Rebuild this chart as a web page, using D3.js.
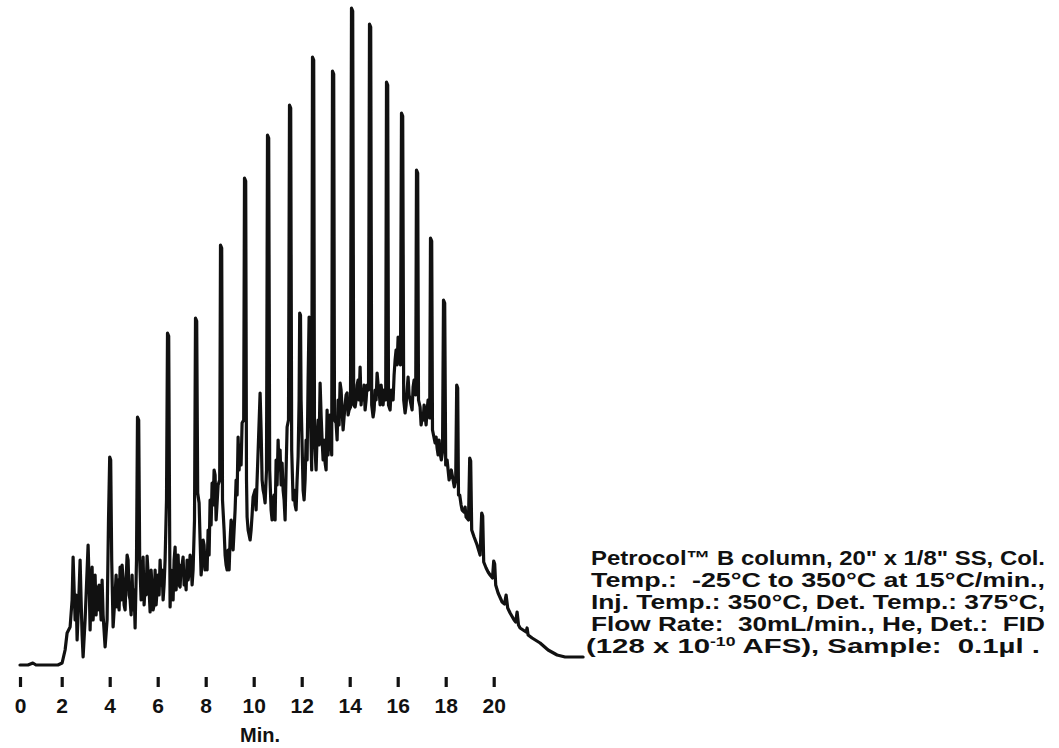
<!DOCTYPE html>
<html><head><meta charset="utf-8">
<script src="https://cdn.jsdelivr.net/npm/d3@7"></script>
<style>body{margin:0;background:#fff;} svg{display:block;}</style>
</head><body>
<svg id="c" width="1059" height="748"></svg>
<script>
// x-axis tick labels (minutes)
const tickMinutes = [0, 2, 4, 6, 8, 10, 12, 14, 16, 18, 20];
const xLabel = "Min.";
const conditionLines = [
  "Petrocol\u2122 B column, 20\" x 1/8\" SS, Col.",
  "Temp.:  -25\u00B0C to 350\u00B0C at 15\u00B0C/min.,",
  "Inj. Temp.: 350\u00B0C, Det. Temp.: 375\u00B0C,",
  "Flow Rate:  30mL/min., He, Det.:  FID"
];
const lastLine = ["(128 x 10", "-10", " AFS), Sample:  0.1\u00B5l ."];

// chromatogram trace: [retention time (s), detector signal (mV)]
const traceA = [
  [0,0],[23,0],[37,0.2],[46,0],[109,0],[121,0.2],[128.5,1.5],[133.5,3.2],[141,3.8],[146,6.5],
  [148.5,10.8],[153.5,4.5],[156,7.0],[158.5,2.5],[163.5,7.5],[166,10.5],[168.5,6.5],[171,3.0],[173.5,0.8],[178.5,4.5],
  [183.5,9.5],[186,12.0],[188.5,8.5],[191,3.5],[193.5,7.5],[196,9.8],[198.5,4.5],[201,6.5],[203.5,9.0],[206,5.0],
  [208.5,7.8],[211,5.5],[213.5,8.0],[216,6.5],[218.5,4.5],[221,8.5],[223.5,5.0],[228.5,1.8],[233.5,4.5],[237,14.5],
  [240,20.8],[242.5,20.5],[245,10.5],[248.5,3.8],[253.5,7.0],[256,9.0],[258.5,5.8],[261,8.5],[263.5,5.5],[266,9.8],[268.5,6.5],
  [271,10.0],[273.5,8.5],[276,6.0],[278.5,5.5],[281,8.5],[283.5,11.0],[286,10.5],[288.5,7.0],[291,6.5],[293.5,5.0],
  [296,9.0],[298.5,5.5],[301,7.5],[303.5,3.7],[307,10.5],[309.5,24.8],[312.5,24.5],[315,10.5]
];
const traceB = [
  [318.5,6.5],[323.5,10.8],[326,6.0],[328.5,8.0],[331,7.0],[333.5,10.9],[338.5,7.5],[341,5.3],[343.5,9.5],[346,7.8],
  [348.5,5.5],[351,6.0],[353.5,9.5],[356,6.0],[358.5,7.5],[361,9.0],[363.5,7.0],[366,10.5],[368.5,8.0],[371,9.5],
  [373.5,6.5],[376,8.0],[378.5,10.5],[382,16.5],[384.5,33.2],[387.5,32.9],[390,12.5],[391,5.8],[393.5,9.5],[396,8.5],[398.5,6.5],
  [401,10.5],[403.5,11.8],[406,7.5],[408.5,9.5],[411,11.0],[413.5,8.0],[416,7.8],[418.5,10.0],[421,10.0],[423.5,10.8],
  [426,8.0],[428.5,9.0],[431,7.5],[433.5,10.5],[436,8.5],[438.5,9.2],[441,11.0],[443.5,10.3],[446,8.0],[448.5,9.5],
  [452,14.5],[454.5,34.7],[457.5,34.4],[460,17.2],[463.5,16.2],[466,12.5],[468.5,9.0],[471,10.2],[473.5,12.5],[476,12.0],[478.5,9.5],
  [481,11.0],[483.5,9.5],[486,13.5],[488.5,11.0],[491,16.5],[493.5,14.0],[496,18.2],[498.5,16.0],[501,19.5],[503.5,19.0],
  [506,14.5],[508.5,16.2],[511,18.0],[515,18.5],[517,42.0],[520,41.7],[522,16.5],[526,13.5],[528.5,11.0],[531,10.0],[533.5,9.5],
  [536,11.5],[538.5,9.5],[541,12.5],[543.5,14.5],[546,14.0],[548.5,11.5],[551,13.5],[553.5,15.5],[556,18.5],[558.5,17.0],
  [561,22.8],[563.5,19.5],[566,22.0],[568.5,20.0],[571,24.2],[575,24.5],[577,48.7],[580,48.4],[582,18.5],[583.5,14.8],[586,13.5],
  [588.5,13.0],[591,12.5],[593.5,13.5],[596,15.0],[598.5,16.8]
];
const traceC = [
  [603.5,17.5],[606,15.5],[608.5,18.5],[612,22.5],[616,27.2],[618.5,23.5],[621,18.5],[623.5,17.5],[626,17.0],[628.5,16.2],
  [632,19.5],[634.5,53.0],[637.5,52.7],[640,19.5],[643.5,15.5],[646,14.5],[648.5,16.5],[651,17.0],[653.5,14.5],[656,20.5],[658.5,18.0],
  [661,22.5],[663.5,19.5],[666,21.5],[668.5,18.0],[671,20.2],[673.5,17.5],[676,16.5],[678.5,14.5],[681,19.5],[683.5,23.8],
  [687,24.5],[689.5,56.0],[692.5,55.7],[695,21.5],[698.5,16.5],[701,17.5],[703.5,16.0],[706,15.5],[708.5,18.5],[711,20.8],[713.5,26.5],
  [715,35.2],[717,35.0],[718.5,26.5],[723.5,17.5],[726,16.5],[728.5,18.5],[731,22.5],[733.5,20.5],[736,28.5],[738.5,34.8],[741,26.5],
  [745,19.5],[747,60.8],[750,60.5],[752,22.5],[756,19.5],[758.5,23.0],[761,24.5],[763.5,22.0],[766,28.2],[768.5,25.0],[771,22.5],
  [773.5,20.5],[776,22.5],[778.5,20.2],[781,19.5],[783.5,25.5],[786,21.0],[788.5,23.5],[791,25.0],[795,21.0],[797,59.4],[800,59.1],
  [802,24.5],[806,24.2],[808.5,22.5],[811,26.5],[813.5,24.0],[816,28.2],[818.5,27.5],[821,25.5],[823.5,23.5],[826,24.8],
  [828.5,26.0],[831,27.0],[833.5,27.2],[836,25.0],[838.5,25.5],[842,25.8],[844.5,65.7],[847.5,65.4],[850,26.0],[853.5,25.8],[856,26.5],
  [858.5,28.0],[861,28.5],[863.5,26.5],[866,29.8],[868.5,26.0],[871,27.5],[873.5,26.5],[876,28.0],[878.5,25.5],[881,26.5],
  [883.5,28.0],[887,27.5],[889.5,64.1],[892.5,63.8],[895,26.0],[898.5,24.8],[901,25.5],[903.5,27.5],[906,26.5],[908.5,29.2],[911,28.0],
  [913.5,27.5],[916,26.0],[918.5,28.0],[921,27.0],[923.5,26.0],[926,27.5],[930,26.5],[932,58.3],[935,58.0],[937,26.0],[941,25.5],
  [943.5,27.5],[946,27.0],[948.5,26.5],[951,29.0],[953.5,30.5],[956,31.5],[958.5,30.0],[961,32.8],[963.5,31.0]
];
const traceD = [
  [967,30.0],[969.5,55.2],[972.5,54.9],[975,26.5],[978.5,25.2],[981,26.0],[983.5,27.5],[986,28.8],[988.5,27.0],[991,26.5],[993.5,26.0],
  [996,25.5],[998.5,27.8],[1001,28.5],[1005,27.0],[1007,49.5],[1010,49.2],[1012,26.5],[1016,25.8],[1018.5,24.0],[1021,24.7],[1023.5,24.5],
  [1026,26.0],[1028.5,25.0],[1031,24.0],[1033.5,25.5],[1036,26.5],[1040,24.7],[1042,42.7],[1045,42.4],[1047,23.5],[1053.5,22.2],[1056,22.8],
  [1058.5,21.7],[1061,21.0],[1063.5,22.5],[1066,21.2],[1069,20.5],[1072,21.3],[1074.5,36.5],[1077.5,36.2],[1080,20.0],[1083.5,20.5],[1086,19.5],
  [1088.5,18.5],[1091,19.0],[1094,19.5],[1098.5,18.5],[1101.5,17.8],[1105,18.5],[1107.5,28.0],[1110,27.7],[1112,17.0],[1115,17.0],[1118.5,16.0],
  [1121,15.5],[1126,15.3],[1128.5,15.8],[1131,14.8],[1137,14.5],[1140,20.7],[1142.5,20.4],[1145,13.5],[1151,12.8],[1158.5,12.0],[1166,11.0],
  [1170,15.2],[1172.5,14.9],[1175,10.3],[1181,9.7],[1186,9.3],[1191,9.0],[1197,8.7],[1200,10.4],[1202.5,10.1],[1205,8.0],[1211,7.2],[1221,6.3],
  [1227,6.1],[1231,7.0],[1235,5.7],[1241,5.2],[1251,4.5],[1255,4.3],[1258.5,5.3],[1262,4.0],[1266,3.7],[1273.5,3.5],
  [1281,3.3],[1283.5,3.7],[1286,3.0],[1296,2.7],[1316,2.2],[1336,1.5],[1358.5,1.0],[1378.5,0.8],[1396,0.8],[1423.5,0.8]
];
const trace = [...traceA, ...traceB, ...traceC, ...traceD];

const svg = d3.select("#c");
const ink = "#111";
const font = "'Liberation Sans', Arial, sans-serif";
const x = d3.scaleLinear().domain([0, 120, 1200]).range([20, 61.7, 493.7]);
const y = d3.scaleLinear().domain([0, 66]).range([665, 5]);

const line = d3.line().x(d => x(d[0])).y(d => y(d[1]));
svg.append("path").datum(trace)
  .attr("d", line).attr("fill", "none").attr("stroke", ink)
  .attr("stroke-width", 3.2).attr("stroke-linejoin", "round").attr("stroke-linecap", "round");

const axis = d3.axisBottom(x)
  .tickValues(tickMinutes.map(m => m * 60))
  .tickFormat(s => String(s / 60))
  .tickSize(10).tickPadding(11);
const g = svg.append("g").attr("transform", "translate(0,677)").call(axis);
g.select(".domain").remove();
g.selectAll(".tick line").attr("stroke", ink).attr("stroke-width", 3.2);
g.selectAll(".tick text").attr("fill", ink)
  .style("font-family", font).style("font-size", "21px").style("font-weight", "bold");

svg.append("text").attr("x", 260).attr("y", 742).attr("text-anchor", "middle")
  .attr("fill", ink).style("font-family", font)
  .style("font-size", "20px").style("font-weight", "bold")
  .text(xLabel);

const tg = svg.append("g").attr("fill", ink)
  .style("font-family", font).style("font-size", "20px").style("font-weight", "bold");
conditionLines.forEach((t, i) => {
  tg.append("text").attr("x", 591).attr("y", 565 + i * 22)
    .attr("xml:space", "preserve")
    .attr("textLength", 454).attr("lengthAdjust", "spacingAndGlyphs")
    .text(t);
});
const last = tg.append("text").attr("x", 586).attr("y", 565 + 4 * 22)
  .attr("xml:space", "preserve")
  .attr("textLength", 454).attr("lengthAdjust", "spacingAndGlyphs");
last.append("tspan").text(lastLine[0]);
last.append("tspan").attr("dy", -7).style("font-size", "12px").text(lastLine[1]);
last.append("tspan").attr("dy", 7).text(lastLine[2]);
</script>
</body></html>
